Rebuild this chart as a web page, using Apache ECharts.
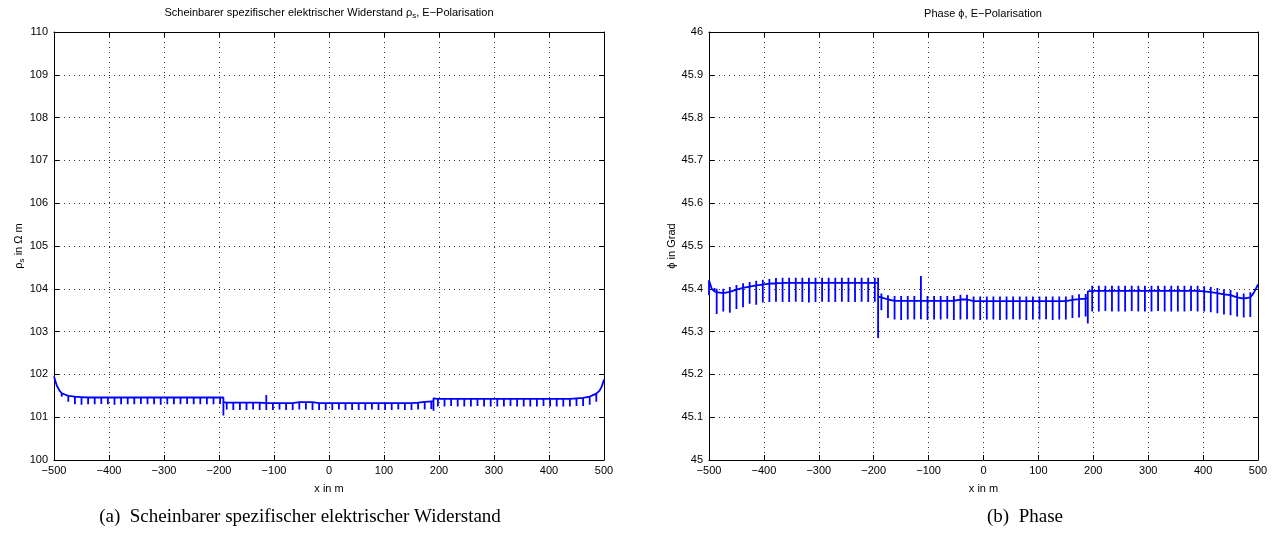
<!DOCTYPE html>
<html>
<head>
<meta charset="utf-8">
<script src="https://cdn.jsdelivr.net/npm/echarts@6/dist/echarts.min.js"></script>
<style>
  html, body { margin: 0; padding: 0; background: #ffffff; }
  #chart { width: 1277px; height: 540px; }
</style>
</head>
<body>
<div id="chart"></div>
<script>
// Profile positions along the line (m); repeated entries mark the vertical jumps
const positions = [
  -500, -495, -490, -486, -474, -462, -450, -438, -426, -414,
  -402, -390, -378, -366, -354, -342, -330, -318, -306, -294,
  -282, -270, -258, -246, -234, -222, -210, -198, -192, -192,
  -186, -174, -162, -150, -138, -126, -114, -102, -90, -78,
  -66, -54, -42, -30, -18, -6, 6, 18, 30, 42,
  54, 66, 78, 90, 102, 114, 126, 138, 150, 162,
  174, 186, 190, 190, 198, 210, 222, 234, 246, 258,
  270, 282, 294, 306, 318, 330, 342, 354, 366, 378,
  390, 402, 414, 426, 438, 450, 462, 474, 486, 492,
  496, 500
];

// Apparent resistivity (Ohm m): level along the profile, spike minima, upward spikes
const rhoBase = [
  101.95, 101.74, 101.62, 101.56, 101.50, 101.48, 101.47, 101.46, 101.46, 101.46,
  101.46, 101.46, 101.46, 101.46, 101.46, 101.46, 101.46, 101.46, 101.46, 101.46,
  101.46, 101.46, 101.46, 101.46, 101.46, 101.46, 101.46, 101.46, 101.46, 101.35,
  101.34, 101.34, 101.34, 101.34, 101.34, 101.34, 101.33, 101.33, 101.33, 101.33,
  101.33, 101.35, 101.35, 101.35, 101.33, 101.33, 101.33, 101.33, 101.33, 101.33,
  101.33, 101.33, 101.33, 101.33, 101.33, 101.33, 101.33, 101.33, 101.33, 101.34,
  101.36, 101.37, 101.37, 101.44, 101.43, 101.43, 101.43, 101.43, 101.43, 101.43,
  101.43, 101.43, 101.43, 101.43, 101.43, 101.43, 101.43, 101.43, 101.43, 101.43,
  101.43, 101.43, 101.43, 101.43, 101.43, 101.44, 101.45, 101.48, 101.55, 101.62,
  101.72, 101.88
];
const rhoLow = [
  null, null, null, 101.48, 101.36, 101.30, 101.29, 101.30, 101.30, 101.31,
  101.30, 101.29, 101.30, 101.30, 101.30, 101.31, 101.30, 101.30, 101.29, 101.30,
  101.30, 101.30, 101.31, 101.30, 101.30, 101.30, 101.30, 101.31, 101.04, null,
  101.18, 101.17, 101.17, 101.17, 101.18, 101.17, 101.17, 101.17, 101.18, 101.17,
  101.17, 101.18, 101.18, 101.17, 101.17, 101.17, 101.17, 101.18, 101.17, 101.17,
  101.17, 101.17, 101.18, 101.17, 101.17, 101.17, 101.18, 101.17, 101.17, 101.18,
  101.18, 101.19, 101.15, null, 101.25, 101.25, 101.26, 101.25, 101.25, 101.25,
  101.26, 101.25, 101.25, 101.25, 101.25, 101.26, 101.25, 101.25, 101.25, 101.25,
  101.26, 101.25, 101.25, 101.25, 101.25, 101.26, 101.26, 101.29, 101.36, null,
  null, null
];
const rhoUp = [
  null, null, null, null, null, null, null, null, null, null,
  null, null, null, null, null, null, null, null, null, null,
  null, null, null, null, null, null, null, null, null, null,
  null, null, null, null, null, null, 101.52, null, null, null,
  null, null, null, null, null, null, null, null, null, null,
  null, null, null, null, null, null, null, null, null, null,
  null, null, null, null, null, null, null, null, null, null,
  null, null, null, null, null, null, null, null, null, null,
  null, null, null, null, null, null, null, null, null, null,
  null, null
];

// Phase (degrees): level along the profile, spike minima, upward ticks
const phiBase = [
  45.420, 45.400, 45.394, 45.392, 45.390, 45.393, 45.398, 45.402, 45.405, 45.408,
  45.410, 45.412, 45.413, 45.414, 45.414, 45.414, 45.414, 45.414, 45.414, 45.414,
  45.414, 45.414, 45.414, 45.414, 45.414, 45.414, 45.414, 45.414, 45.414, 45.382,
  45.380, 45.375, 45.372, 45.372, 45.372, 45.372, 45.372, 45.372, 45.372, 45.372,
  45.372, 45.372, 45.375, 45.375, 45.371, 45.371, 45.371, 45.371, 45.371, 45.371,
  45.371, 45.371, 45.371, 45.371, 45.371, 45.371, 45.371, 45.371, 45.371, 45.374,
  45.376, 45.377, 45.378, 45.394, 45.395, 45.395, 45.395, 45.395, 45.395, 45.395,
  45.395, 45.395, 45.395, 45.395, 45.395, 45.395, 45.395, 45.395, 45.395, 45.395,
  45.395, 45.394, 45.392, 45.390, 45.387, 45.385, 45.380, 45.377, 45.380, 45.390,
  45.400, 45.410
];
const phiLow = [
  45.385, null, null, 45.341, 45.347, 45.344, 45.353, 45.357, 45.365, 45.363,
  45.368, 45.369, 45.370, 45.369, 45.369, 45.370, 45.369, 45.368, 45.369, 45.370,
  45.369, 45.369, 45.370, 45.369, 45.369, 45.370, 45.369, 45.370, 45.285, null,
  45.350, 45.332, 45.328, 45.327, 45.328, 45.328, 45.329, 45.327, 45.328, 45.328,
  45.330, 45.327, 45.328, 45.329, 45.328, 45.327, 45.328, 45.328, 45.327, 45.328,
  45.329, 45.328, 45.327, 45.328, 45.328, 45.329, 45.327, 45.328, 45.328, 45.332,
  45.333, 45.335, 45.319, null, 45.347, 45.347, 45.348, 45.347, 45.347, 45.347,
  45.348, 45.347, 45.347, 45.347, 45.348, 45.347, 45.347, 45.347, 45.347, 45.348,
  45.347, 45.347, 45.345, 45.343, 45.340, 45.338, 45.335, 45.333, 45.334, null,
  null, null
];
const phiUp = [
  null, null, 45.402, 45.400, 45.400, 45.404, 45.409, 45.413, 45.416, 45.419,
  45.421, 45.423, 45.425, 45.426, 45.426, 45.426, 45.426, 45.426, 45.426, 45.426,
  45.426, 45.426, 45.426, 45.426, 45.426, 45.426, 45.426, 45.426, 45.426, null,
  45.389, 45.385, 45.383, 45.383, 45.383, 45.383, 45.430, 45.383, 45.383, 45.383,
  45.383, 45.383, 45.386, 45.386, 45.382, 45.382, 45.382, 45.382, 45.382, 45.382,
  45.382, 45.382, 45.382, 45.382, 45.382, 45.382, 45.382, 45.382, 45.382, 45.385,
  45.387, 45.388, null, null, 45.407, 45.407, 45.407, 45.407, 45.407, 45.407,
  45.407, 45.407, 45.407, 45.407, 45.407, 45.407, 45.407, 45.407, 45.407, 45.407,
  45.407, 45.406, 45.404, 45.402, 45.399, 45.397, 45.392, 45.389, 45.392, null,
  null, null
];

// Axis ranges and tick spacing
const xRange = [-500, 500], xStep = 100;
const rhoRange = [100, 110], rhoStep = 1;
const phiRange = [45, 46], phiStep = 0.1;

// Walk the profile: level, optional upward tick, optional spike, back to level
function trace(base, low, up) {
  const pts = [];
  for (let i = 0; i < positions.length; i++) {
    const x = positions[i];
    pts.push([x, base[i]]);
    if (up[i] != null) pts.push([x, up[i]]);
    if (low[i] != null) pts.push([x, low[i]]);
    pts.push([x, base[i]]);
  }
  return pts;
}

const FONT = '"Liberation Sans", Arial, Helvetica, sans-serif';
const SERIF = '"Liberation Serif", "Times New Roman", serif';
const minus = v => String(v).replace('-', '\u2212');

const frameLine = { show: true, onZero: false, lineStyle: { color: '#000', width: 1 } };
const ticksIn = { show: true, inside: true, length: 5, lineStyle: { color: '#000' } };
const gridDots = { show: true, lineStyle: { color: '#333', type: [1, 4], width: 1 } };

function bottomAxis(gi) {
  return {
    type: 'value', gridIndex: gi, position: 'bottom',
    min: xRange[0], max: xRange[1], interval: xStep,
    axisLine: frameLine, axisTick: ticksIn, splitLine: gridDots,
    axisLabel: { color: '#000', fontSize: 11, fontFamily: FONT, margin: 5, formatter: minus },
    name: 'x in m', nameLocation: 'middle', nameGap: 23,
    nameTextStyle: { color: '#000', fontSize: 11, fontFamily: FONT }
  };
}
function topAxis(gi) {
  return {
    type: 'value', gridIndex: gi, position: 'top',
    min: xRange[0], max: xRange[1], interval: xStep,
    axisLine: frameLine, axisTick: ticksIn, splitLine: { show: false },
    axisLabel: { show: false }
  };
}
function leftAxis(gi, range, step, name, fmt, gap) {
  return {
    type: 'value', gridIndex: gi, position: 'left',
    min: range[0], max: range[1], interval: step,
    axisLine: frameLine, axisTick: ticksIn, splitLine: gridDots,
    axisLabel: { color: '#000', fontSize: 11, fontFamily: FONT, margin: 6, formatter: fmt },
    name: name, nameLocation: 'middle', nameGap: gap, nameRotate: 90,
    nameTextStyle: {
      color: '#000', fontSize: 11, fontFamily: FONT,
      rich: {
        n: { fontSize: 11, fontFamily: FONT, color: '#000' },
        s: { fontSize: 8, fontFamily: FONT, color: '#000', verticalAlign: 'bottom', padding: [6, 0, 0, 0] }
      }
    }
  };
}
function rightAxis(gi, range, step) {
  return {
    type: 'value', gridIndex: gi, position: 'right',
    min: range[0], max: range[1], interval: step,
    axisLine: frameLine, axisTick: ticksIn, splitLine: { show: false },
    axisLabel: { show: false }
  };
}

const chart = echarts.init(document.getElementById('chart'), null, { renderer: 'canvas' });

chart.setOption({
  animation: false,
  backgroundColor: '#ffffff',
  grid: [
    { left: 54, top: 32, width: 550, height: 428 },
    { left: 709, top: 32, width: 549, height: 428 }
  ],
  xAxis: [bottomAxis(0), topAxis(0), bottomAxis(1), topAxis(1)],
  yAxis: [
    leftAxis(0, rhoRange, rhoStep, '{n|ρ}{s|s}{n| in Ω m}', v => String(v), 28),
    rightAxis(0, rhoRange, rhoStep),
    leftAxis(1, phiRange, phiStep, 'ϕ in Grad', v => String(+v.toFixed(1)), 30),
    rightAxis(1, phiRange, phiStep)
  ],
  series: [
    {
      type: 'line', xAxisIndex: 0, yAxisIndex: 0,
      data: trace(rhoBase, rhoLow, rhoUp),
      showSymbol: false, symbol: 'none',
      lineStyle: { color: '#0000ff', width: 1.8 }
    },
    {
      type: 'line', xAxisIndex: 2, yAxisIndex: 2,
      data: trace(phiBase, phiLow, phiUp),
      showSymbol: false, symbol: 'none',
      lineStyle: { color: '#0000ff', width: 1.8 }
    }
  ],
  graphic: [
    {
      type: 'text', x: 329, y: 6,
      style: {
        text: '{n|Scheinbarer spezifischer elektrischer Widerstand ρ}{s|s}{n|, E\u2212Polarisation}',
        align: 'center',
        rich: {
          n: { fontSize: 11, fontFamily: FONT, fill: '#000' },
          s: { fontSize: 8, fontFamily: FONT, fill: '#000', verticalAlign: 'bottom', padding: [6, 0, 0, 0] }
        }
      }
    },
    {
      type: 'text', x: 983, y: 8,
      style: { text: 'Phase ϕ, E\u2212Polarisation', fontSize: 11, fontFamily: FONT, fill: '#000', align: 'center' }
    },
    {
      type: 'text', x: 300, y: 508,
      style: { text: '(a)  Scheinbarer spezifischer elektrischer Widerstand', fontSize: 19, fontFamily: SERIF, fill: '#000', align: 'center' }
    },
    {
      type: 'text', x: 1025, y: 508,
      style: { text: '(b)  Phase', fontSize: 19, fontFamily: SERIF, fill: '#000', align: 'center' }
    }
  ]
});
</script>
</body>
</html>
